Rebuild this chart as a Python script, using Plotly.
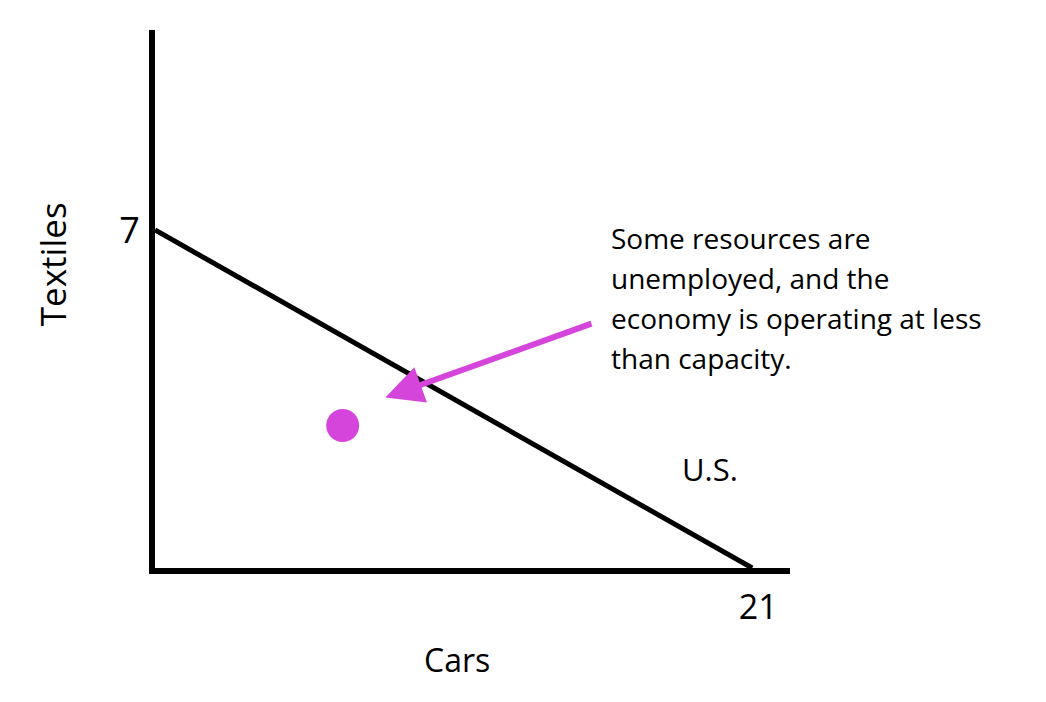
import plotly.graph_objects as go

# production possibilities frontier
ppf_cars = [0, 21]
ppf_textiles = [7, 0]

# point inside the frontier
inside_cars = [6.6]
inside_textiles = [2.95]

# arrow: tail -> head
arrow_tail = (15.4, 5.07)
arrow_head = (8.1, 3.53)

note_lines = [
    "Some resources are",
    "unemployed, and the",
    "economy is operating at less",
    "than capacity.",
]

FONT = "Open Sans"
MAGENTA = "#D645DB"

fig = go.Figure()
fig.add_trace(go.Scatter(
    x=ppf_cars, y=ppf_textiles, mode="lines",
    line=dict(color="black", width=5), showlegend=False, hoverinfo="skip",
))
fig.add_trace(go.Scatter(
    x=inside_cars, y=inside_textiles, mode="markers",
    marker=dict(color=MAGENTA, size=33), showlegend=False, hoverinfo="skip",
))

fig.add_annotation(
    x=arrow_head[0], y=arrow_head[1], ax=arrow_tail[0], ay=arrow_tail[1],
    xref="x", yref="y", axref="x", ayref="y", text="",
    showarrow=True, arrowhead=2, arrowsize=1.25, arrowwidth=6, arrowcolor=MAGENTA,
)

for i, line in enumerate(note_lines):
    fig.add_annotation(
        x=15.95, y=6.83, xref="x", yref="y", text=line, showarrow=False,
        xanchor="left", yanchor="middle", yshift=-40 * i,
        font=dict(family=FONT, size=28, color="black"),
    )

fig.add_annotation(x=19.5, y=2.05, text="U.S.", showarrow=False,
                   font=dict(family=FONT, size=31, color="black"))

# axis titles placed as free annotations (they sit off-centre in the original)
fig.add_annotation(x=0.4756, y=-0.171, xref="paper", yref="paper", text="Cars",
                   xanchor="center", yanchor="middle", showarrow=False,
                   font=dict(family=FONT, size=32, color="black"))
fig.add_annotation(x=-0.162, y=0.565, xref="paper", yref="paper", text="Textiles",
                   xanchor="center", yanchor="middle", showarrow=False, textangle=-90,
                   font=dict(family=FONT, size=35, color="black"))

# the page body adds an 8px offset, so the margins are shifted to compensate
fig.update_layout(
    width=1046, height=702,
    margin=dict(l=147, r=264, t=22, b=142),
    plot_bgcolor="white", paper_bgcolor="white",
    xaxis=dict(range=[0, 22.33], showline=True, linewidth=6, linecolor="black",
               showgrid=False, zeroline=False, ticks="",
               tickvals=[21], ticktext=["21"], ticklabelstandoff=4, ticklabelshift=6,
               tickfont=dict(family=FONT, size=34, color="black")),
    yaxis=dict(range=[0, 11.14], showline=True, linewidth=6, linecolor="black",
               showgrid=False, zeroline=False, ticks="",
               tickvals=[7], ticktext=["7"], ticklabelstandoff=2,
               tickfont=dict(family=FONT, size=36, color="black")),
)

fig.write_html("out.html")
